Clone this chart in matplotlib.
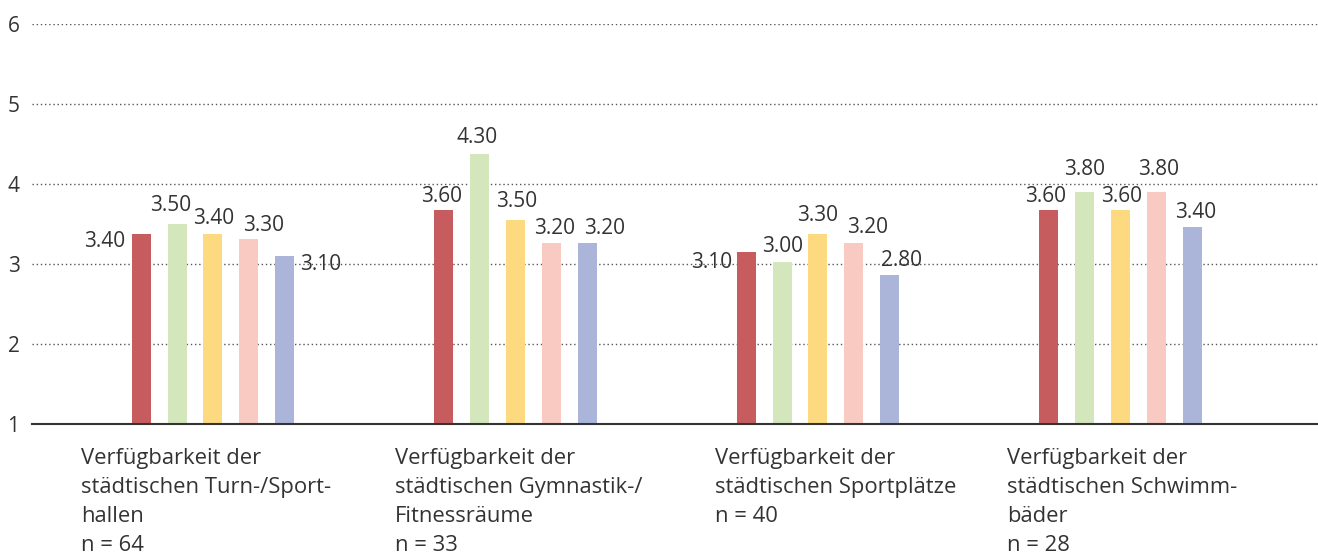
import numpy as np
import matplotlib
matplotlib.use("Agg")
import matplotlib.pyplot as plt

plt.rcParams['font.family'] = ['Open Sans', 'DejaVu Sans']

# categories (x-axis texts below the chart)
categories = [
    "Verfügbarkeit der\nstädtischen Turn-/Sport-\nhallen\nn = 64",
    "Verfügbarkeit der\nstädtischen Gymnastik-/\nFitnessräume\nn = 33",
    "Verfügbarkeit der\nstädtischen Sportplätze\nn = 40",
    "Verfügbarkeit der\nstädtischen Schwimm-\nbäder\nn = 28",
]

# bar heights (5 series per group)
s1 = [3.38, 3.68, 3.15, 3.68]
s2 = [3.50, 4.37, 3.03, 3.90]
s3 = [3.38, 3.55, 3.38, 3.68]
s4 = [3.31, 3.26, 3.26, 3.90]
s5 = [3.10, 3.26, 2.86, 3.46]
series = [s1, s2, s3, s4, s5]

# label texts printed next to the bars
lab1 = ["3.40", "3.60", "3.10", "3.60"]
lab2 = ["3.50", "4.30", "3.00", "3.80"]
lab3 = ["3.40", "3.50", "3.30", "3.60"]
lab4 = ["3.30", "3.20", "3.20", "3.80"]
lab5 = ["3.10", "3.20", "2.80", "3.40"]
labels = [lab1, lab2, lab3, lab4, lab5]

yticks = [1, 2, 3, 4, 5, 6]

colors = ['#C75C5E', '#D3E6BC', '#FDDA7F', '#F8CAC2', '#ABB5D9']

# label offsets in pixels (dx, dy) relative to bar top centre, per series, per group
offs = [
    [(-37, -8), (-2, 13), (-35, -10), (-3, 13)],
    [(-7, 19), (-3, 17), (0, 15), (0, 23)],
    [(1, 15), (1, 19), (0, 18), (1, 13)],
    [(15, 14), (3, 15), (14, 16), (2, 23)],
    [(36, -8), (18, 15), (12, 15), (4, 15)],
]
cat_x = [-0.437, -0.397, -0.34, -0.374]

fig = plt.figure(figsize=(13.18, 5.56), dpi=100)
ax = fig.add_axes([0.0243, 0.2374, 0.9757, 0.7194])

x = np.arange(len(categories))
step = 0.1183
w = 0.0628
txt = '#333333'
for i, s in enumerate(series):
    xs = x + (i - 2) * step
    bars = ax.bar(xs, s, width=w, bottom=0, color=colors[i], zorder=3)
    for j, b in enumerate(bars):
        dx, dy = offs[i][j]
        ax.annotate(labels[i][j], (b.get_x() + b.get_width() / 2, s[j]),
                    xytext=(dx, dy), textcoords='offset pixels',
                    ha='center', va='center', fontsize=15, color=txt, zorder=4)

ax.set_xlim(-0.598, 3.653)
ax.set_ylim(1, 6)
ax.set_yticks(yticks)
ax.set_yticklabels([str(t) for t in yticks], fontsize=15, color=txt)
ax.tick_params(axis='y', length=0, pad=9)
ax.set_xticks([])
for t in yticks[1:]:
    ax.axhline(t, color='#555555', lw=1, ls=(0, (1, 2)), zorder=1)
for sp in ['top', 'right', 'left']:
    ax.spines[sp].set_visible(False)
ax.spines['bottom'].set_color('#333333')
ax.spines['bottom'].set_linewidth(1.5)
ax.spines['bottom'].set_zorder(5)

for j, c in enumerate(categories):
    for k, line in enumerate(c.split('\n')):
        ax.annotate(line, (x[j] + cat_x[j], 1), xytext=(0, -40 - 29 * k),
                    textcoords='offset pixels', ha='left', va='baseline',
                    fontsize=15.8, color=txt, annotation_clip=False)

fig.savefig('out.png', dpi=100)
